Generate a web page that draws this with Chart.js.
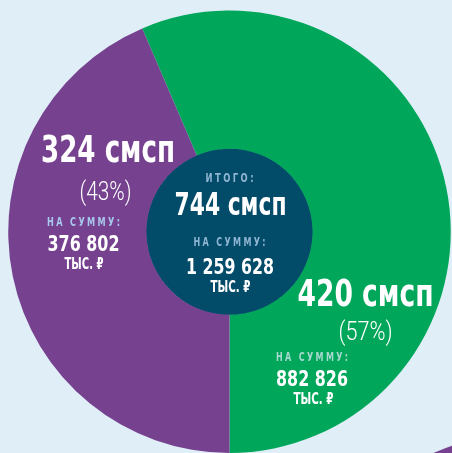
<!DOCTYPE html>
<html><head><meta charset="utf-8">
<script src="https://cdn.jsdelivr.net/npm/chart.js@4.4.1/dist/chart.umd.min.js"></script>
<style>
html,body{margin:0;padding:0;background:#e0eef8;overflow:hidden}
#wrap{position:relative;width:452px;height:453px;overflow:hidden;background:#e0eef8}
#c{position:absolute;left:0;top:0}
.deco{position:absolute;left:271px;top:431px;width:538px;height:538px;border-radius:50%;background:#76418f}
</style></head>
<body><div id="wrap"><div class="deco"></div><canvas id="c" width="452" height="453"></canvas></div>
<script>
// ---- data ----
const categories = ['420 смсп', '324 смсп'];
const counts = [420, 324];
const shares = ['(57%)', '(43%)'];
const sums = ['882 826', '376 802'];
const totalCount = 744;
const totalLabel = '744 смсп';
const totalSum = '1 259 628';
const sumCaption = 'НА СУММУ:';
const totalCaption = 'ИТОГО:';
const unit = 'ТЫС. ₽';

const GREEN = '#00a65a', PURPLE = '#76418f', DARK = '#024b69';
const FONT = '"Liberation Sans Narrow","DejaVu Sans Condensed",Roboto,sans-serif';
const LIGHT = 'Roboto,Lato,"Open Sans",sans-serif';

function fit(ctx, text, x, y, font, color, targetW, spacing) {
  ctx.save();
  ctx.font = font;
  ctx.letterSpacing = spacing || '0px';
  ctx.fillStyle = color;
  ctx.textAlign = 'left';
  ctx.textBaseline = 'alphabetic';
  const sp = parseFloat(spacing || '0');
  const w = ctx.measureText(text).width - sp;
  const s = targetW / w;
  ctx.translate(x - targetW / 2, y);
  ctx.scale(s, 1);
  ctx.fillText(text, 0, 0);
  ctx.restore();
}

const labelPlugin = {
  id: 'labels',
  afterDraw(chart) {
    const ctx = chart.ctx;
    const arc = chart.getDatasetMeta(0).data[0];
    const cx = arc.x, cy = arc.y;
    // purple (index 1)
    fit(ctx, categories[1], cx - 121.5, cy - 70, 'bold 37px ' + FONT, '#ffffff', 134);
    fit(ctx, shares[1], cx - 124, cy - 32, '300 26px ' + LIGHT, '#ffffff', 52);
    fit(ctx, sumCaption, cx - 146, cy - 6, 'bold 11.5px ' + FONT, '#a8c8ec', 73, '3px');
    fit(ctx, sums[1], cx - 146, cy + 19, 'bold 21.5px ' + FONT, '#ffffff', 72);
    fit(ctx, unit, cx - 145.5, cy + 37, 'bold 15.5px ' + FONT, '#ffffff', 39);
    // center
    fit(ctx, totalCaption, cx, cy - 49.5, 'bold 11.5px ' + FONT, '#8fb6d2', 48, '3px');
    fit(ctx, totalLabel, cx + 1, cy - 17, 'bold 32px ' + FONT, '#ffffff', 112);
    fit(ctx, sumCaption, cx, cy + 14, 'bold 11.5px ' + FONT, '#8fb6d2', 72, '3px');
    fit(ctx, totalSum, cx + 0.5, cy + 42.3, 'bold 21.5px ' + FONT, '#ffffff', 88);
    fit(ctx, unit, cx + 1, cy + 60.7, 'bold 15.5px ' + FONT, '#ffffff', 40);
    // green (index 0)
    fit(ctx, categories[0], cx + 136, cy + 74, 'bold 37px ' + FONT, '#ffffff', 136);
    fit(ctx, shares[0], cx + 136, cy + 108, '300 26px ' + LIGHT, '#ffffff', 54);
    fit(ctx, sumCaption, cx + 82.5, cy + 129.7, 'bold 11.5px ' + FONT, '#a8d8d0', 72, '3px');
    fit(ctx, sums[0], cx + 82.5, cy + 154.7, 'bold 21.5px ' + FONT, '#ffffff', 72);
    fit(ctx, unit, cx + 84, cy + 172.3, 'bold 15.5px ' + FONT, '#ffffff', 40);
  }
};

new Chart(document.getElementById('c'), {
  type: 'doughnut',
  data: {
    labels: categories,
    datasets: [
      { data: counts, backgroundColor: [GREEN, PURPLE], borderWidth: 0, weight: 138 },
      { data: [totalCount], backgroundColor: [DARK], borderColor: [DARK], borderWidth: 1, weight: 83 }
    ]
  },
  options: {
    responsive: false,
    animation: false,
    cutout: 0,
    rotation: 180 - 360 * counts[0] / totalCount,
    layout: { padding: { left: 8, right: 1, top: 10.5, bottom: -0.5 } },
    plugins: { legend: { display: false }, tooltip: { enabled: false } }
  },
  plugins: [labelPlugin]
});
</script>
</body></html>
